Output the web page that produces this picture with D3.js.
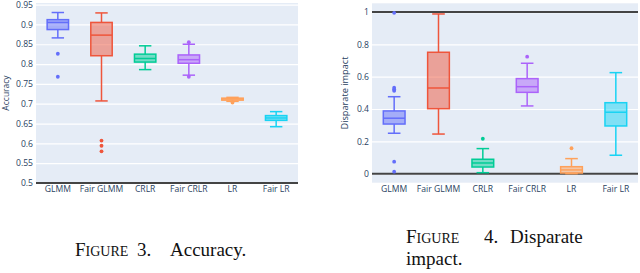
<!DOCTYPE html>
<html><head><meta charset="utf-8">
<script src="https://cdn.jsdelivr.net/npm/d3@7"></script>
<style>
html,body{margin:0;padding:0;background:#fff;}
svg{display:block;}
</style></head>
<body>
<svg id="c" width="640" height="273"></svg>
<script>
// ---------- DATA ----------
const categories = ["GLMM", "Fair GLMM", "CRLR", "Fair CRLR", "LR", "Fair LR"];
const colors = ["#636efa", "#EF553B", "#00cc96", "#ab63fa", "#FFA15A", "#19d3f3"];

// Accuracy box statistics
const accLow    = [0.866, 0.707, 0.786, 0.772, 0.706, 0.642];
const accQ1     = [0.887, 0.821, 0.805, 0.802, 0.709, 0.658];
const accMedian = [0.905, 0.873, 0.814, 0.811, 0.712, 0.664];
const accQ3     = [0.912, 0.905, 0.825, 0.823, 0.714, 0.670];
const accHigh   = [0.930, 0.929, 0.846, 0.850, 0.716, 0.680];
const accOutliers = [[0.826, 0.768], [0.607, 0.594, 0.580], [], [0.855, 0.768], [0.703], []];
const accTicks = [0.5, 0.55, 0.6, 0.65, 0.7, 0.75, 0.8, 0.85, 0.9, 0.95];
const accTickLabels = ["0.5", "0.55", "0.6", "0.65", "0.7", "0.75", "0.8", "0.85", "0.9", "0.95"];

// Disparate impact box statistics
const diLow    = [0.250, 0.245, 0.006, 0.419, 0.000, 0.114];
const diQ1     = [0.307, 0.402, 0.041, 0.503, 0.004, 0.295];
const diMedian = [0.343, 0.530, 0.066, 0.538, 0.023, 0.380];
const diQ3     = [0.388, 0.751, 0.089, 0.588, 0.043, 0.439];
const diHigh   = [0.476, 0.988, 0.155, 0.683, 0.093, 0.625];
const diOutliers = [[0.532, 0.522, 0.513, 0.074, 0.012, 0.995], [], [0.216], [0.724], [0.157], []];
const diTicks = [0, 0.2, 0.4, 0.6, 0.8, 1];
const diTickLabels = ["0", "0.2", "0.4", "0.6", "0.8", "1"];
const diRefLines = [0, 1];

// ---------- DRAW ----------
const svg = d3.select("#c");
const tickColor = "#2a3f5f";
const font = "'Open Sans', sans-serif";
const tickFont = 8.6;

function panel(opt) {
  const g = svg.append("g");
  const x = d3.scaleBand().domain(categories).range(opt.xr).paddingInner(0).paddingOuter(0);
  const y = d3.scaleLinear().domain(opt.yd).range(opt.yr);
  g.append("rect").attr("x", opt.xr[0]).attr("y", opt.yr[1])
    .attr("width", opt.xr[1] - opt.xr[0]).attr("height", opt.yr[0] - opt.yr[1])
    .attr("fill", "#E5ECF6");
  g.append("g").attr("transform", `translate(${opt.xr[0]},0)`)
    .call(d3.axisLeft(y).tickValues(opt.ticks).tickSize(-(opt.xr[1] - opt.xr[0])).tickFormat(""))
    .call(a => a.select(".domain").remove())
    .call(a => a.selectAll("line").attr("stroke", "#fff").attr("stroke-width", 1.2));
  opt.refs.forEach(v => {
    g.append("line").attr("x1", opt.xr[0]).attr("x2", opt.xr[1])
      .attr("y1", y(v)).attr("y2", y(v)).attr("stroke", "#444").attr("stroke-width", 2);
  });
  g.append("g").attr("transform", `translate(${opt.xr[0]},0)`)
    .call(d3.axisLeft(y).tickValues(opt.ticks).tickSize(0).tickPadding(opt.tickPad)
      .tickFormat((d, i) => opt.tickLabels[i]))
    .call(a => a.select(".domain").remove())
    .call(a => a.selectAll("text").attr("fill", tickColor).attr("font-family", font).attr("font-size", tickFont));
  g.append("g").attr("transform", `translate(0,${opt.yr[0]})`)
    .call(d3.axisBottom(x).tickSize(0).tickPadding(3))
    .call(a => a.select(".domain").remove())
    .call(a => a.selectAll("text").attr("fill", tickColor).attr("font-family", font).attr("font-size", tickFont));
  g.append("text").attr("transform", `translate(${opt.titleX},93) rotate(-90)`)
    .attr("text-anchor", "middle").attr("fill", tickColor).attr("font-family", font)
    .attr("font-size", opt.titleSize).text(opt.title);
  const bw = x.bandwidth() * 0.49, cw = bw * 0.58;
  categories.forEach((c, i) => {
    const cx = x(c) + x.bandwidth() / 2, col = colors[i];
    const bg = g.append("g");
    bg.append("line").attr("x1", cx).attr("x2", cx).attr("y1", y(opt.low[i])).attr("y2", y(opt.q1[i]))
      .attr("stroke", col).attr("stroke-width", 1.5);
    bg.append("line").attr("x1", cx).attr("x2", cx).attr("y1", y(opt.q3[i])).attr("y2", y(opt.high[i]))
      .attr("stroke", col).attr("stroke-width", 1.5);
    [opt.low[i], opt.high[i]].forEach(v => {
      bg.append("line").attr("x1", cx - cw / 2).attr("x2", cx + cw / 2).attr("y1", y(v)).attr("y2", y(v))
        .attr("stroke", col).attr("stroke-width", 1.5);
    });
    bg.append("rect").attr("x", cx - bw / 2).attr("width", bw)
      .attr("y", y(opt.q3[i])).attr("height", Math.max(1, y(opt.q1[i]) - y(opt.q3[i])))
      .attr("fill", col).attr("fill-opacity", 0.5).attr("stroke", col).attr("stroke-width", 1.5);
    bg.append("line").attr("x1", cx - bw / 2).attr("x2", cx + bw / 2)
      .attr("y1", y(opt.med[i])).attr("y2", y(opt.med[i])).attr("stroke", col).attr("stroke-width", 1.5);
    opt.out[i].forEach(v => {
      bg.append("circle").attr("cx", cx).attr("cy", y(v)).attr("r", 1.9).attr("fill", col);
    });
  });
}

panel({xr: [36, 298], yd: [0.5, 0.954], yr: [183, 3], ticks: accTicks, tickLabels: accTickLabels,
  refs: [0.5], tickPad: 3, title: "Accuracy", titleX: 9, titleSize: 8.5,
  low: accLow, q1: accQ1, med: accMedian, q3: accQ3, high: accHigh, out: accOutliers});
panel({xr: [372, 638], yd: [-0.056, 1.054], yr: [182.7, 3.3], ticks: diTicks, tickLabels: diTickLabels,
  refs: diRefLines, tickPad: 3, title: "Disparate impact", titleX: 348, titleSize: 9.2,
  low: diLow, q1: diQ1, med: diMedian, q3: diQ3, high: diHigh, out: diOutliers});

// captions
const serif = "'Liberation Serif', 'DejaVu Serif', serif";
const capSize = 19, scSize = 14;
function word(x, y, txt, smallCaps) {
  const t = svg.append("text").attr("x", x).attr("y", y).attr("font-family", serif)
    .attr("font-size", capSize).attr("fill", "#111");
  if (smallCaps) {
    t.append("tspan").text(txt[0]);
    t.append("tspan").attr("font-size", scSize).text(txt.slice(1).toUpperCase());
  } else t.text(txt);
}
word(75, 256, "Figure", true);
word(137, 256, "3.", false);
word(170, 256, "Accuracy.", false);
word(406, 243, "Figure", true);
word(484, 243, "4.", false);
word(510, 243, "Disparate", false);
word(406, 265, "impact.", false);
</script>
</body></html>
